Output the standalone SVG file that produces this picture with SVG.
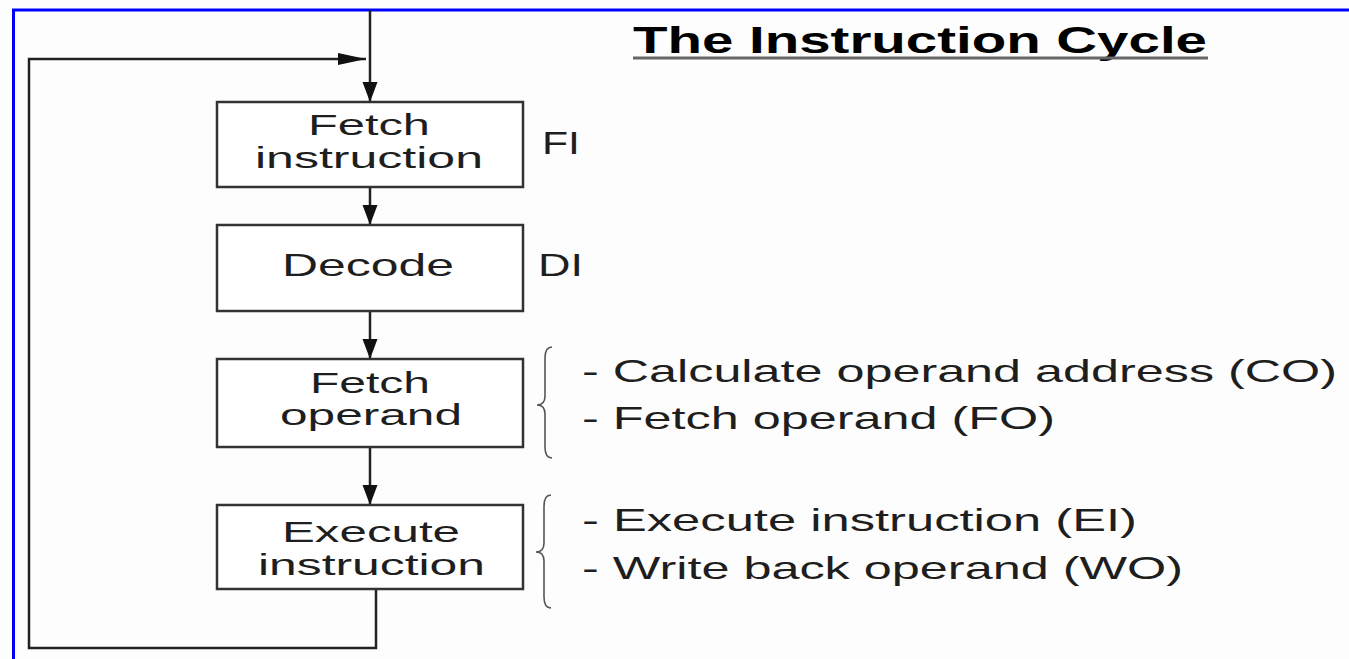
<svg xmlns="http://www.w3.org/2000/svg" width="1349" height="659" viewBox="0 0 1349 659">
  <defs>
    <style>
      .box { fill: #ffffff; stroke: #333333; stroke-width: 2.5; }
      .lbl { font-family: "Liberation Sans", Arial, sans-serif; font-size: 31.5px; fill: #1e1e1e; }
      .blbl { font-family: "Liberation Sans", Arial, sans-serif; font-size: 30px; fill: #1e1e1e; }
      .title { font-family: "Liberation Sans", Arial, sans-serif; font-size: 36px; font-weight: bold; fill: #000000; }
      .conn { fill: none; stroke: #222222; stroke-width: 2.5; }
      .brace { fill: none; stroke: #555555; stroke-width: 1.6; }
      .frame { fill: none; stroke: #0000ff; stroke-width: 3; }
    </style>
    <marker id="arr" markerUnits="userSpaceOnUse" markerWidth="20" markerHeight="16" refX="20" refY="8" orient="auto">
      <path d="M0,0.5 L20,8 L0,15.5 z" fill="#111111"/>
    </marker>
    <marker id="arrLong" markerUnits="userSpaceOnUse" markerWidth="28" markerHeight="12" refX="28" refY="6" orient="auto">
      <path d="M0,0 L28,6 L0,12 z" fill="#111111"/>
    </marker>
  </defs>

  <rect x="0" y="0" width="1349" height="659" fill="#fdfdfd"/>

  <g id="frame">
    <path class="frame" d="M13.5,659 L13.5,10 L1349,10"/>
  </g>

  <g id="title">
    <text class="title" x="633" y="53" textLength="574" lengthAdjust="spacingAndGlyphs">The Instruction Cycle</text>
    <line x1="633" y1="58" x2="1208" y2="58" stroke="#666666" stroke-width="3"/>
  </g>

  <g id="connectors">
    <line class="conn" x1="370" y1="10" x2="370" y2="102" marker-end="url(#arr)"/>
    <line class="conn" x1="370" y1="187" x2="370" y2="225" marker-end="url(#arr)"/>
    <line class="conn" x1="370" y1="311" x2="370" y2="359" marker-end="url(#arr)"/>
    <line class="conn" x1="370" y1="447" x2="370" y2="505" marker-end="url(#arr)"/>
    <path class="conn" d="M376,589 L376,648 L29,648 L29,59 L366,59" marker-end="url(#arrLong)"/>
  </g>

  <g id="node-fetch-instruction">
    <rect class="box" x="217" y="102" width="306" height="85"/>
    <text class="blbl" x="308" y="135" textLength="122" lengthAdjust="spacingAndGlyphs">Fetch</text>
    <text class="blbl" x="255" y="168" textLength="228" lengthAdjust="spacingAndGlyphs">instruction</text>
    <text class="lbl" x="542" y="154" textLength="38" lengthAdjust="spacingAndGlyphs">FI</text>
  </g>

  <g id="node-decode">
    <rect class="box" x="217" y="225" width="306" height="86"/>
    <text class="lbl" x="282" y="276" textLength="172" lengthAdjust="spacingAndGlyphs">Decode</text>
    <text class="lbl" x="538" y="276" textLength="45" lengthAdjust="spacingAndGlyphs">DI</text>
  </g>

  <g id="node-fetch-operand">
    <rect class="box" x="217" y="359" width="306" height="88"/>
    <text class="blbl" x="310" y="393" textLength="120" lengthAdjust="spacingAndGlyphs">Fetch</text>
    <text class="blbl" x="280" y="425" textLength="182" lengthAdjust="spacingAndGlyphs">operand</text>
    <path class="brace" d="M552,347 Q545,347 545,358 L545,396 Q545,405 537,405 Q545,405 545,414 L545,447 Q545,458 552,458"/>
    <text class="lbl" x="582" y="382" textLength="755" lengthAdjust="spacingAndGlyphs">- Calculate operand address (CO)</text>
    <text class="lbl" x="582" y="429" textLength="473" lengthAdjust="spacingAndGlyphs">- Fetch operand (FO)</text>
  </g>

  <g id="node-execute-instruction">
    <rect class="box" x="217" y="505" width="306" height="84"/>
    <text class="blbl" x="282" y="542" textLength="178" lengthAdjust="spacingAndGlyphs">Execute</text>
    <text class="blbl" x="258" y="575" textLength="227" lengthAdjust="spacingAndGlyphs">instruction</text>
    <path class="brace" d="M551,495 Q544,495 544,506 L544,543 Q544,552 536,552 Q544,552 544,561 L544,597 Q544,608 551,608"/>
    <text class="lbl" x="582" y="531" textLength="555" lengthAdjust="spacingAndGlyphs">- Execute instruction (EI)</text>
    <text class="lbl" x="582" y="579" textLength="601" lengthAdjust="spacingAndGlyphs">- Write back operand (WO)</text>
  </g>
</svg>
